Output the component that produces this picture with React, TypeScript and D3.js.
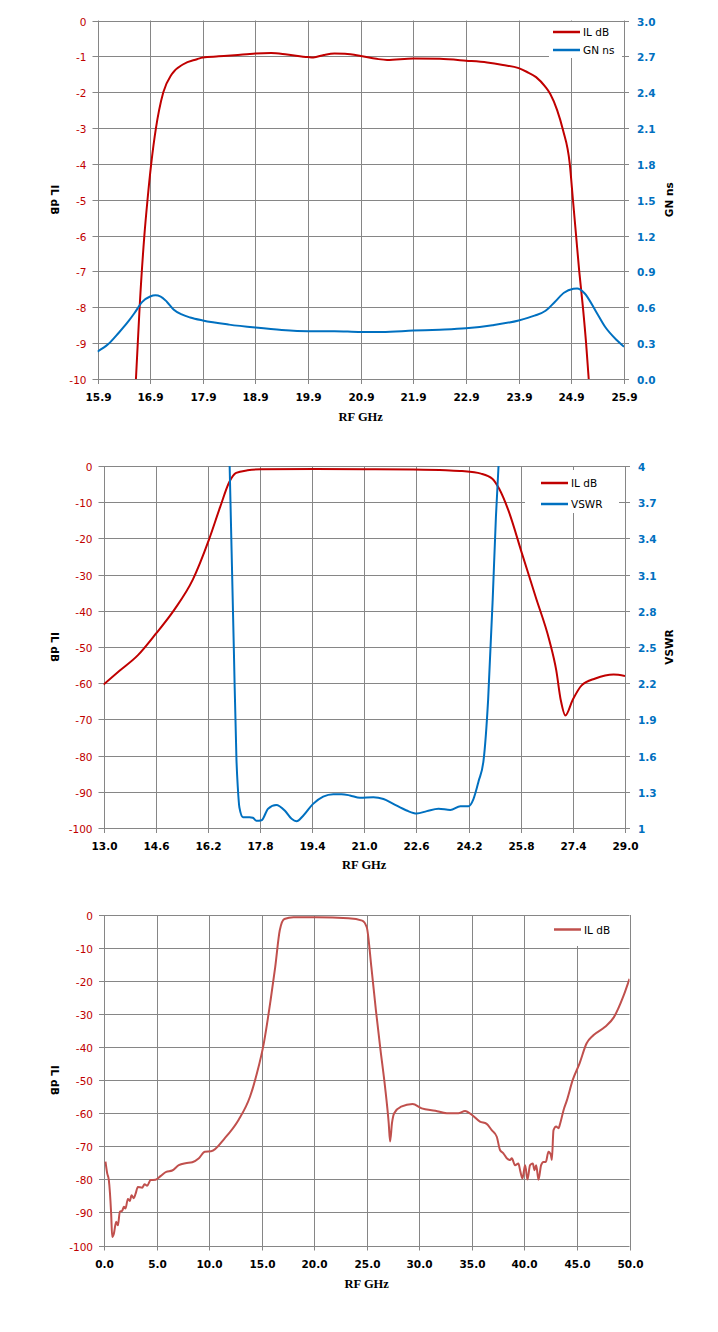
import React, { useEffect, useRef } from 'react';
import * as d3 from 'd3';

// ---- chart 1: IL dB and group delay, 15.9 - 25.9 GHz
const gd1Freq = [15.9, 16.1, 16.3, 16.5, 16.6, 16.75, 16.9, 17.0, 17.1, 17.22, 17.35, 17.5, 17.66, 17.9, 18.4, 18.9, 19.4, 19.9, 20.4, 20.9, 21.3, 21.9, 22.4, 22.9, 23.4, 23.9, 24.2, 24.41, 24.59, 24.76, 24.94, 25.01, 25.15, 25.37, 25.54, 25.76, 25.9];
const gd1Ns = [0.23, 0.29, 0.385, 0.49, 0.55, 0.645, 0.69, 0.7, 0.69, 0.645, 0.58, 0.54, 0.515, 0.49, 0.455, 0.43, 0.41, 0.4, 0.4, 0.393, 0.393, 0.405, 0.413, 0.425, 0.45, 0.49, 0.53, 0.571, 0.647, 0.722, 0.755, 0.758, 0.718, 0.563, 0.437, 0.326, 0.27];
const il1Freq = [16.63, 16.7, 16.79, 16.85, 16.92, 17.01, 17.07, 17.15, 17.31, 17.53, 17.79, 17.9, 18.2, 18.5, 18.9, 19.2, 19.5, 19.9, 20.0, 20.2, 20.4, 20.6, 20.9, 21.2, 21.4, 21.9, 22.4, 22.9, 23.3, 23.6, 23.9, 24.05, 24.23, 24.4, 24.5, 24.63, 24.74, 24.87, 24.93, 24.99, 25.05, 25.12, 25.18, 25.23];
const il1Db = [-10, -8, -6, -5, -4, -3, -2.5, -2, -1.5, -1.22, -1.08, -1.03, -1.0, -0.97, -0.92, -0.91, -0.95, -1.02, -1.03, -0.96, -0.92, -0.93, -0.99, -1.07, -1.1, -1.06, -1.07, -1.12, -1.17, -1.24, -1.33, -1.43, -1.58, -1.84, -2.05, -2.5, -3.05, -4, -5, -6, -7, -8, -9, -10];
const x1Ticks = [15.9, 16.9, 17.9, 18.9, 19.9, 20.9, 21.9, 22.9, 23.9, 24.9, 25.9];
const y1Ticks = [0, -1, -2, -3, -4, -5, -6, -7, -8, -9, -10];
const r1Ticks = [0, 0.3, 0.6, 0.9, 1.2, 1.5, 1.8, 2.1, 2.4, 2.7, 3.0];

// ---- chart 2: IL dB and VSWR, 13 - 29 GHz
const il2Freq = [13.0, 13.5, 14.05, 14.6, 15.18, 15.74, 16.23, 16.58, 16.86, 17.07, 17.42, 17.84, 19.5, 21.0, 22.5, 23.5, 24.0, 24.58, 24.93, 25.14, 25.42, 25.84, 26.26, 26.68, 26.89, 27.03, 27.17, 27.39, 27.67, 28.09, 28.65, 29.0];
const il2Db = [-60.4, -56.5, -52.3, -46.4, -39.6, -31.4, -20.5, -11.3, -4.4, -1.9, -1.2, -0.9, -0.85, -0.9, -1.0, -1.2, -1.4, -2.1, -3.5, -6.3, -12.2, -24.2, -36.2, -48.2, -56.4, -64.7, -68.9, -64.7, -60.6, -58.7, -57.6, -58.0];
const vswrFreq = [16.87, 16.93, 17.0, 17.08, 17.12, 17.17, 17.28, 17.48, 17.58, 17.69, 17.85, 18.05, 18.3, 18.56, 18.77, 18.92, 19.12, 19.43, 19.74, 20.05, 20.3, 20.56, 20.87, 21.28, 21.59, 21.89, 22.3, 22.61, 22.92, 23.28, 23.64, 23.95, 24.2, 24.35, 24.51, 24.66, 24.8, 24.94, 25.04, 25.12];
const vswrVal = [4.0, 3.3, 2.47, 1.56, 1.34, 1.17, 1.09, 1.09, 1.085, 1.06, 1.065, 1.16, 1.19, 1.145, 1.076, 1.056, 1.1, 1.2, 1.26, 1.28, 1.28, 1.27, 1.25, 1.255, 1.24, 1.2, 1.145, 1.12, 1.14, 1.16, 1.15, 1.18, 1.18, 1.24, 1.39, 1.56, 2.06, 2.89, 3.58, 4.0];
const x2Ticks = [13.0, 14.6, 16.2, 17.8, 19.4, 21.0, 22.6, 24.2, 25.8, 27.4, 29.0];
const y2Ticks = [0, -10, -20, -30, -40, -50, -60, -70, -80, -90, -100];
const r2Ticks = [1, 1.3, 1.6, 1.9, 2.2, 2.5, 2.8, 3.1, 3.4, 3.7, 4];

// ---- chart 3: wideband IL dB, 0 - 50 GHz
const il3Freq = [0.14, 0.3, 0.46, 0.68, 0.78, 0.94, 1.16, 1.32, 1.51, 1.73, 1.89, 2.05, 2.27, 2.46, 2.62, 2.84, 3.0, 3.22, 3.63, 3.86, 4.11, 4.43, 4.9, 5.38, 5.92, 6.49, 7.12, 7.76, 8.4, 9.03, 9.6, 10.19, 11.5, 12.8, 13.89, 14.55, 15.2, 15.85, 16.29, 16.72, 17.16, 18.03, 20.2, 23.26, 24.56, 25.0, 25.44, 25.87, 26.31, 26.74, 27.09, 27.22, 27.4, 27.61, 28.27, 29.36, 30.23, 31.53, 32.62, 33.71, 34.36, 35.02, 35.77, 36.41, 36.89, 37.37, 37.68, 38.0, 38.32, 38.64, 38.8, 39.11, 39.43, 39.59, 39.81, 40.07, 40.29, 40.54, 40.8, 40.96, 41.12, 41.34, 41.59, 41.81, 42.04, 42.29, 42.52, 42.61, 42.77, 43.02, 43.25, 43.41, 43.73, 44.04, 44.6, 45.25, 45.91, 46.56, 47.65, 48.52, 49.39, 50.0];
const il3Db = [-74.6, -78.1, -80.2, -90.3, -97.4, -96.4, -92.8, -93.9, -89.8, -89.5, -88.3, -88.8, -85.9, -86.5, -84.8, -85.7, -84.4, -82.3, -82.5, -81.5, -81.9, -80.2, -80.1, -79.0, -77.7, -77.3, -75.7, -75.1, -74.8, -73.6, -71.6, -71.5, -67.5, -62.0, -55.0, -47.9, -38.9, -25.8, -15.8, -4.7, -1.2, -0.7, -0.7, -1.0, -1.7, -3.7, -15.8, -28.8, -40.9, -52.0, -63.0, -68.5, -63.0, -60.0, -58.0, -57.2, -58.5, -59.2, -60.0, -60.0, -59.3, -60.5, -62.5, -63.2, -65.1, -67.1, -71.1, -72.1, -73.6, -74.1, -73.6, -75.7, -75.2, -77.2, -79.7, -75.7, -80.0, -75.7, -75.2, -77.2, -75.7, -80.1, -75.7, -74.7, -74.7, -71.6, -72.6, -74.1, -65.1, -64.0, -64.5, -63.0, -59.0, -56.1, -49.9, -44.9, -38.9, -36.4, -33.9, -30.9, -24.8, -19.3];
const x3Ticks = [0, 5, 10, 15, 20, 25, 30, 35, 40, 45, 50];
const y3Ticks = y2Ticks;

const RED = '#C00000';
const BLUE = '#0070C0';
const RED3 = '#C0504D';
const GRID = '#868686';
const SANS = '"DejaVu Sans", Verdana, sans-serif';

type Series = { x: number[]; y: number[]; color: string; axis: 'left' | 'right'; name: string };
type Panel = {
  id: string;
  box: { left: number; right: number; top: number; bottom: number };
  xTicks: number[];
  xFmt: (d: number) => string;
  yTicks: number[];
  rTicks?: number[];
  rFmt?: (d: number) => string;
  rTitle?: string;
  series: Series[];
  legend: { x: number; y: number; w: number; h: number; rowY: number[]; pad: number };
  titleY: number;
};

const fmt1 = (d: number) => d.toFixed(1);
const fmtV = (d: number) => (Math.abs(d - Math.round(d)) < 1e-6 ? String(Math.round(d)) : d.toFixed(1));

const panels: Panel[] = [
  {
    id: 'p1',
    box: { left: 97.5, right: 624, top: 20.5, bottom: 379 },
    xTicks: x1Ticks, xFmt: fmt1, yTicks: y1Ticks,
    rTicks: r1Ticks, rFmt: fmt1, rTitle: 'GN ns',
    series: [
      { x: il1Freq, y: il1Db, color: RED, axis: 'left', name: 'IL dB' },
      { x: gd1Freq, y: gd1Ns, color: BLUE, axis: 'right', name: 'GN ns' },
    ],
    legend: { x: 549, y: 22, w: 73, h: 36, rowY: [32, 50], pad: 4 },
    titleY: 417,
  },
  {
    id: 'p2',
    box: { left: 103.5, right: 625, top: 466, bottom: 828 },
    xTicks: x2Ticks, xFmt: fmt1, yTicks: y2Ticks,
    rTicks: r2Ticks, rFmt: fmtV, rTitle: 'VSWR',
    series: [
      { x: il2Freq, y: il2Db, color: RED, axis: 'left', name: 'IL dB' },
      { x: vswrFreq, y: vswrVal, color: BLUE, axis: 'right', name: 'VSWR' },
    ],
    legend: { x: 525, y: 470, w: 94, h: 43, rowY: [483, 504], pad: 16 },
    titleY: 865,
  },
  {
    id: 'p3',
    box: { left: 104, right: 629.5, top: 915, bottom: 1245.5 },
    xTicks: x3Ticks, xFmt: fmt1, yTicks: y3Ticks,
    series: [{ x: il3Freq, y: il3Db, color: RED3, axis: 'left', name: 'IL dB' }],
    legend: { x: 545, y: 916, w: 82, h: 30, rowY: [929.5], pad: 9 },
    titleY: 1284,
  },
];

const App: React.FC = () => {
  const svgRef = useRef<SVGSVGElement>(null);

  useEffect(() => {
    if (!svgRef.current) return;
    const svg = d3.select(svgRef.current);
    svg.selectAll('*').remove();
    const defs = svg.append('defs');

    panels.forEach((p) => {
      const { left, right, top, bottom } = p.box;
      const x = d3.scaleLinear().domain([p.xTicks[0], p.xTicks[p.xTicks.length - 1]]).range([left, right]);
      const yL = d3.scaleLinear().domain([p.yTicks[p.yTicks.length - 1], p.yTicks[0]]).range([bottom, top]);
      const yR = p.rTicks
        ? d3.scaleLinear().domain([p.rTicks[0], p.rTicks[p.rTicks.length - 1]]).range([bottom, top])
        : null;

      defs.append('clipPath').attr('id', `clip-${p.id}`)
        .append('rect').attr('x', left).attr('y', top).attr('width', right - left).attr('height', bottom - top);

      const g = svg.append('g');

      // grid lines, ticks and tick labels
      p.xTicks.forEach((t) => {
        const px = Math.round(x(t)) + 0.5;
        g.append('line').attr('x1', px).attr('x2', px).attr('y1', top).attr('y2', bottom + 5)
          .attr('stroke', GRID).attr('stroke-width', 1);
        g.append('text').attr('x', px).attr('y', bottom + 18).attr('text-anchor', 'middle')
          .attr('dominant-baseline', 'central').attr('font-family', SANS).attr('font-size', 10.5)
          .attr('font-weight', 'bold').attr('fill', '#000').text(p.xFmt(t));
      });
      p.yTicks.forEach((t) => {
        const py = Math.round(yL(t)) + 0.5;
        g.append('line').attr('x1', left - 5).attr('x2', right + (yR ? 5 : 0)).attr('y1', py).attr('y2', py)
          .attr('stroke', GRID).attr('stroke-width', 1);
        g.append('text').attr('x', left - 11).attr('y', py).attr('text-anchor', 'end')
          .attr('dominant-baseline', 'central').attr('font-family', SANS).attr('font-size', 10.5)
          .attr('fill', RED).text(String(t));
      });
      if (yR && p.rTicks) {
        p.rTicks.forEach((t) => {
          const py = Math.round(yR(t)) + 0.5;
          g.append('text').attr('x', right + 13).attr('y', py).attr('text-anchor', 'start')
            .attr('dominant-baseline', 'central').attr('font-family', SANS).attr('font-size', 10.5)
            .attr('font-weight', 'bold').attr('fill', BLUE).text(p.rFmt ? p.rFmt(t) : String(t));
        });
      }

      // axis titles
      const midY = (top + bottom) / 2;
      g.append('text').attr('transform', `translate(55,${midY}) rotate(90)`).attr('text-anchor', 'middle')
        .attr('dominant-baseline', 'central').attr('font-family', SANS).attr('font-size', 10.5)
        .attr('font-weight', 'bold').attr('fill', '#000').text('IL dB');
      if (p.rTitle) {
        g.append('text').attr('transform', `translate(669,${midY}) rotate(-90)`).attr('text-anchor', 'middle')
          .attr('dominant-baseline', 'central').attr('font-family', SANS).attr('font-size', 10.5)
          .attr('font-weight', 'bold').attr('fill', '#000').text(p.rTitle);
      }
      g.append('text').attr('x', (left + right) / 2).attr('y', p.titleY).attr('text-anchor', 'middle')
        .attr('dominant-baseline', 'central').attr('font-family', '"Liberation Serif", "Times New Roman", serif')
        .attr('font-size', 12.5).attr('font-weight', 'bold').attr('fill', '#000').text('RF GHz');

      // legend background hides the grid behind it
      const lg = p.legend;
      g.append('rect').attr('x', lg.x).attr('y', lg.y).attr('width', lg.w).attr('height', lg.h).attr('fill', '#fff');

      // curves
      const plot = g.append('g').attr('clip-path', `url(#clip-${p.id})`);
      p.series.forEach((s) => {
        const ys = s.axis === 'right' && yR ? yR : yL;
        const pts: [number, number][] = s.x.map((xv, i) => [xv, s.y[i]]);
        const line = d3.line<[number, number]>()
          .x((d) => x(d[0]))
          .y((d) => ys(d[1]))
          .curve(d3.curveMonotoneX);
        plot.append('path').attr('d', line(pts)).attr('fill', 'none').attr('stroke', s.color)
          .attr('stroke-width', 2).attr('stroke-linejoin', 'round');
      });

      // legend entries
      p.series.forEach((s, i) => {
        const ly = lg.rowY[i];
        const lx0 = lg.x + lg.pad;
        g.append('line').attr('x1', lx0).attr('x2', lx0 + 27).attr('y1', ly).attr('y2', ly)
          .attr('stroke', s.color).attr('stroke-width', 2.5);
        g.append('text').attr('x', lx0 + 30).attr('y', ly).attr('dominant-baseline', 'central')
          .attr('font-family', SANS).attr('font-size', 10.5).attr('fill', '#000').text(s.name);
      });
    });
  }, []);

  return (
    <svg ref={svgRef} width={718} height={1332} viewBox="0 0 718 1332"
      style={{ position: 'absolute', left: 0, top: 0, background: '#fff' }} />
  );
};

export default App;
